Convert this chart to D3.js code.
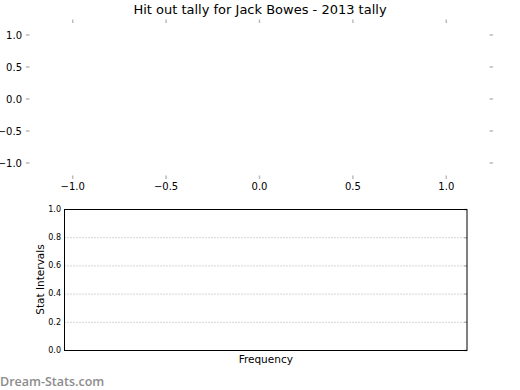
<!DOCTYPE html>
<html>
<head>
<meta charset="utf-8">
<script src="https://cdn.jsdelivr.net/npm/d3@7"></script>
<style>
  body { margin: 0; background: #fff; }
  svg { display: block; font-family: "DejaVu Sans", sans-serif; }
</style>
</head>
<body>
<svg id="chart" width="520" height="390"></svg>
<script>
// data (both panels are empty)
const title = "Hit out tally for Jack Bowes - 2013 tally";
const pieTicks = [-1.0, -0.5, 0.0, 0.5, 1.0];
const pieDomain = [-1.25, 1.25];
const hitOuts = [];          // no tallies recorded
const intervalTicks = [0.0, 0.2, 0.4, 0.6, 0.8, 1.0];
const intervalGrid = [0.2, 0.4, 0.6, 0.8, 1.0];
const frequencies = [];      // no bars

const svg = d3.select("#chart");
const fmt = d3.format(".1f");
const minus = s => s.replace("-", "\u2212");

// title
svg.append("text")
  .attr("x", 260).attr("y", 14)
  .attr("text-anchor", "middle")
  .attr("font-size", "13px")
  .text(title);

// ---- top panel (empty pie axes) ----
const x1 = d3.scaleLinear().domain(pieDomain).range([26, 493]);
const y1 = d3.scaleLinear().domain(pieDomain).range([179, 19]);
const tickCol = "#bbbbbb";

const pie = svg.append("g");
// pie slices would go here
pie.selectAll(".slice").data(hitOuts).enter().append("path").attr("class", "slice");

// inward ticks on all four sides
pie.selectAll(".tl").data(pieTicks).enter().append("line")
  .attr("x1", 26).attr("x2", 29.5)
  .attr("y1", d => y1(d)).attr("y2", d => y1(d))
  .attr("stroke", tickCol).attr("stroke-width", 1.5);
pie.selectAll(".tr").data(pieTicks).enter().append("line")
  .attr("x1", 489.5).attr("x2", 493)
  .attr("y1", d => y1(d)).attr("y2", d => y1(d))
  .attr("stroke", tickCol).attr("stroke-width", 1.5);
pie.selectAll(".tt").data(pieTicks).enter().append("line")
  .attr("x1", d => x1(d)).attr("x2", d => x1(d))
  .attr("y1", 19.5).attr("y2", 23)
  .attr("stroke", tickCol).attr("stroke-width", 1.5);
pie.selectAll(".tb").data(pieTicks).enter().append("line")
  .attr("x1", d => x1(d)).attr("x2", d => x1(d))
  .attr("y1", 175.5).attr("y2", 179)
  .attr("stroke", tickCol).attr("stroke-width", 1.5);

pie.selectAll(".yl").data(pieTicks).enter().append("text")
  .attr("x", 22).attr("y", d => y1(d))
  .attr("dy", "0.36em")
  .attr("text-anchor", "end")
  .attr("font-size", "10px")
  .text(d => minus(fmt(d)));
pie.selectAll(".xl").data(pieTicks).enter().append("text")
  .attr("x", d => x1(d)).attr("y", 190)
  .attr("text-anchor", "middle")
  .attr("font-size", "10px")
  .text(d => minus(fmt(d)));

// ---- bottom panel (empty histogram) ----
const left = 64.5, right = 467, ytop = 209, ybot = 350;
const x2 = d3.scaleLinear().domain([0, 1]).range([left, right]);
const y2 = d3.scaleLinear().domain([0, 1]).range([ybot, ytop]);

const hist = svg.append("g");

hist.selectAll(".grid").data(intervalGrid).enter().append("line")
  .attr("x1", left).attr("x2", right)
  .attr("y1", d => y2(d) + 0.5).attr("y2", d => y2(d) + 0.5)
  .attr("stroke", "#a8a8a8").attr("stroke-width", 1)
  .attr("stroke-dasharray", "1,2");

hist.selectAll(".bar").data(frequencies).enter().append("rect").attr("class", "bar");

// small gray ticks on the right edge
hist.selectAll(".rt").data(intervalTicks).enter().append("line")
  .attr("x1", right - 3).attr("x2", right)
  .attr("y1", d => y2(d) + 0.5).attr("y2", d => y2(d) + 0.5)
  .attr("stroke", tickCol).attr("stroke-width", 1.5);

hist.append("rect")
  .attr("x", left).attr("y", ytop + 0.5)
  .attr("width", right - left).attr("height", ybot - ytop)
  .attr("fill", "none").attr("stroke", "#000").attr("stroke-width", 1);

hist.selectAll(".il").data(intervalTicks).enter().append("text")
  .attr("x", left - 3.5).attr("y", d => y2(d))
  .attr("dy", "0.36em")
  .attr("text-anchor", "end")
  .attr("font-size", "8px")
  .text(d => fmt(d));

hist.append("text")
  .attr("transform", "translate(44," + (ytop + ybot) / 2 + ") rotate(-90)")
  .attr("text-anchor", "middle")
  .attr("font-size", "10.5px")
  .text("Stat Intervals");

hist.append("text")
  .attr("x", (left + right) / 2).attr("y", 363)
  .attr("text-anchor", "middle")
  .attr("font-size", "10.5px")
  .text("Frequency");

// watermark
svg.append("text")
  .attr("x", 0).attr("y", 386)
  .attr("font-family", "Open Sans")
  .attr("font-weight", "600")
  .attr("font-size", "12.5px")
  .attr("fill", "#8c8c8c")
  .text("Dream-Stats.com");
</script>
</body>
</html>
